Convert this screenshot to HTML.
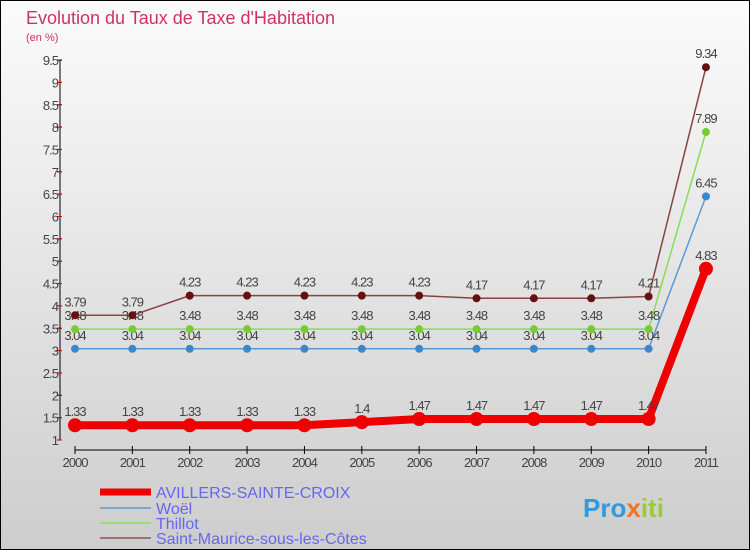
<!DOCTYPE html>
<html><head><meta charset="utf-8"><style>
body{margin:0;font-family:"Liberation Sans",sans-serif}
#c{width:750px;height:550px;position:relative;overflow:hidden}
</style></head><body>
<div id="c">
<svg id="s" width="750" height="550" xmlns="http://www.w3.org/2000/svg" font-family="Liberation Sans, sans-serif">
<defs><linearGradient id="bg" x1="0" y1="0" x2="0" y2="1"><stop offset="0" stop-color="#fbfbfb"/><stop offset="1" stop-color="#cdcdcd"/></linearGradient></defs>
<rect x="0.5" y="0.5" width="749" height="549" fill="url(#bg)" stroke="#000"/>
<text x="26" y="24" font-size="18" fill="#d0306a">Evolution du Taux de Taxe d'Habitation</text>
<text x="26" y="41" font-size="11" fill="#d0306a">(en %)</text>
<g id="axes"></g><g id="series"></g>
<g>
<line x1="100" y1="492" x2="151" y2="492" stroke="#ee0000" stroke-width="7"/>
<text x="156" y="498" font-size="16" fill="#6666ee">AVILLERS-SAINTE-CROIX</text>
<line x1="100" y1="508" x2="151" y2="508" stroke="#7aa7cc" stroke-width="2"/>
<text x="156" y="514" font-size="16" fill="#6666ee">Woël</text>
<line x1="100" y1="523" x2="151" y2="523" stroke="#99dd77" stroke-width="2"/>
<text x="156" y="529" font-size="16" fill="#6666ee">Thillot</text>
<line x1="100" y1="538" x2="151" y2="538" stroke="#a07070" stroke-width="2"/>
<text x="156" y="544" font-size="16" fill="#6666ee">Saint-Maurice-sous-les-Côtes</text>
</g>
<text x="583" y="517" font-size="26" font-weight="bold" fill="#3399dd">Pro<tspan fill="#ee7722">x</tspan><tspan fill="#99cc33">iti</tspan></text>
</svg></div>
<script>
const years=["2000","2001","2002","2003","2004","2005","2006","2007","2008","2009","2010","2011"];
const avillers=[1.33,1.33,1.33,1.33,1.33,1.4,1.47,1.47,1.47,1.47,1.47,4.83];
const woel=[3.04,3.04,3.04,3.04,3.04,3.04,3.04,3.04,3.04,3.04,3.04,6.45];
const thillot=[3.48,3.48,3.48,3.48,3.48,3.48,3.48,3.48,3.48,3.48,3.48,7.89];
const stmaurice=[3.79,3.79,4.23,4.23,4.23,4.23,4.23,4.17,4.17,4.17,4.21,9.34];
const yTicks=[1,1.5,2,2.5,3,3.5,4,4.5,5,5.5,6,6.5,7,7.5,8,8.5,9,9.5];
const NS="http://www.w3.org/2000/svg";
const xs=i=>75+i*57.36;
const ys=v=>440-(v-1)*44.7;
function mk(t,a,p){const e=document.createElementNS(NS,t);for(const k in a)e.setAttribute(k,a[k]);p.appendChild(e);return e;}
const ax=document.getElementById('axes');
const yl=mk('line',{x1:60,y1:ys(9.5),x2:60,y2:ys(1),stroke:'#000'},ax);


yTicks.forEach((v,k)=>{
 mk('line',{x1:57,x2:62,y1:ys(v),y2:ys(v),stroke:'#000'},ax);
 if(k>0) mk('line',{x1:58,x2:62,y1:ys(v)+22.35,y2:ys(v)+22.35,stroke:'#e00'},ax);
 const t=mk('text',{x:58,y:ys(v)+5,'font-size':13,'text-anchor':'end',fill:'#444','letter-spacing':'-1'},ax);
 t.textContent=String(v);
 
 
});
const xl=mk('line',{x1:xs(0),x2:xs(11),y1:450,y2:450,stroke:'#000'},ax);


years.forEach((y,i)=>{
 mk('line',{x1:xs(i),x2:xs(i),y1:446,y2:454,stroke:'#000'},ax);
 const t=mk('text',{x:xs(i),y:467,'font-size':13,'text-anchor':'middle',fill:'#444','letter-spacing':'-1'},ax);
 t.textContent=y;
 
 
});
const sg=document.getElementById('series');
function draw(vals,name,line,dot,w,r){
 const g=mk('g',{},sg);
 
 
 mk('polyline',{points:vals.map((v,i)=>xs(i)+','+ys(v)).join(' '),fill:'none',stroke:line,'stroke-width':w,'stroke-linejoin':'round'},g);
 vals.forEach((v,i)=>{
  const c=mk('circle',{cx:xs(i),cy:ys(v),r:r,fill:dot},g);
  
  
  const t=mk('text',{x:xs(i),y:ys(v)-9,'font-size':13,'text-anchor':'middle',fill:'#444','letter-spacing':'-1'},g);
  t.textContent=String(v);
  
  
 });
}
draw(woel,'woel','#5b9bd5','#3a88cc',1.5,4);
draw(thillot,'thillot','#88dd55','#77cc33',1.5,4);
draw(stmaurice,'saint-maurice','#884444','#661111',1.5,4);
draw(avillers,'avillers','#ee0000','#ee0000',8,7);
</script>
</body></html>
